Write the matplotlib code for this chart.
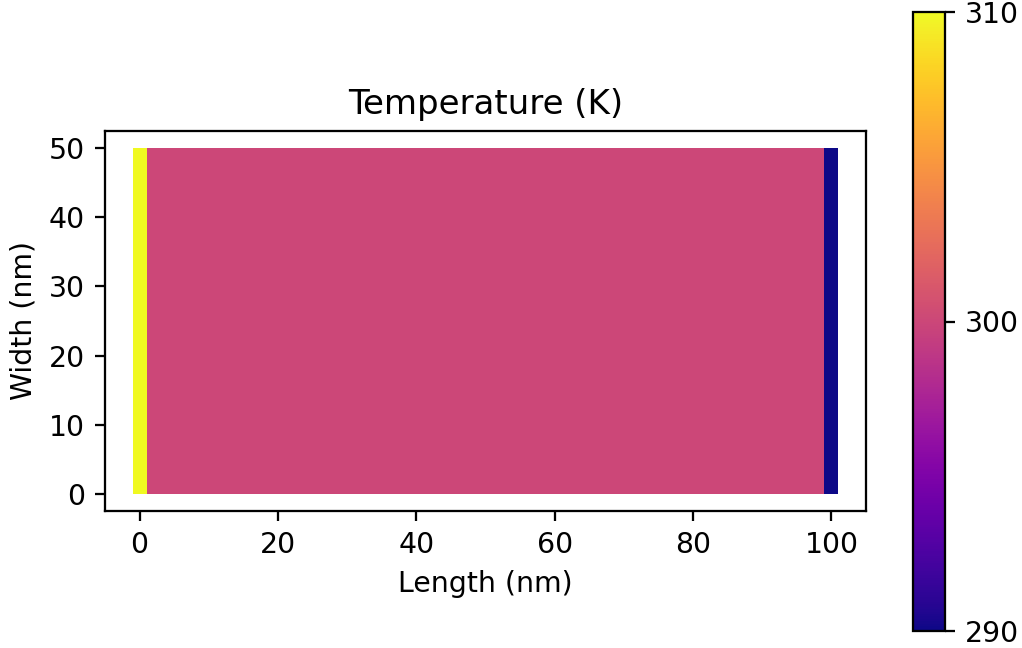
import numpy as np
import matplotlib
matplotlib.use('Agg')
import matplotlib.pyplot as plt

# DATA
# node positions along the length (nm), 2 nm spacing, and the width of the strip
length_nodes = np.arange(0, 101, 2)
width_edges = [0, 50]
# temperature per column (K): hot boundary, bulk, cold boundary
temp_cols = [310] + [300] * 49 + [290]
cbar_ticks = [290, 300, 310]

dpi = 204
fig = plt.figure(figsize=(1022 / dpi, 648 / dpi), dpi=dpi)

# axes placed in figure fraction (pixel positions measured on the reference)
W, H = 1022, 648
ax = fig.add_axes([105 / W, 1 - 511 / H, (866 - 105) / W, (511 - 131) / H])

x_edges = np.concatenate([length_nodes - 1, [length_nodes[-1] + 1]])
T = np.array([temp_cols])
mesh = ax.pcolormesh(x_edges, width_edges, T, cmap='plasma', vmin=290, vmax=310)

ax.set_xlim(-5, 105)
ax.set_ylim(-2.5, 52.5)
ax.set_xticks([0, 20, 40, 60, 80, 100])
ax.set_yticks([0, 10, 20, 30, 40, 50])
ax.set_xlabel('Length (nm)')
ax.set_ylabel('Width (nm)')
ax.set_title('Temperature (K)')

cax = fig.add_axes([913 / W, 1 - 631 / H, (945 - 913) / W, (631 - 12) / H])
cb = fig.colorbar(mesh, cax=cax)
cb.set_ticks(cbar_ticks)

fig.savefig('out.png', dpi=dpi)
